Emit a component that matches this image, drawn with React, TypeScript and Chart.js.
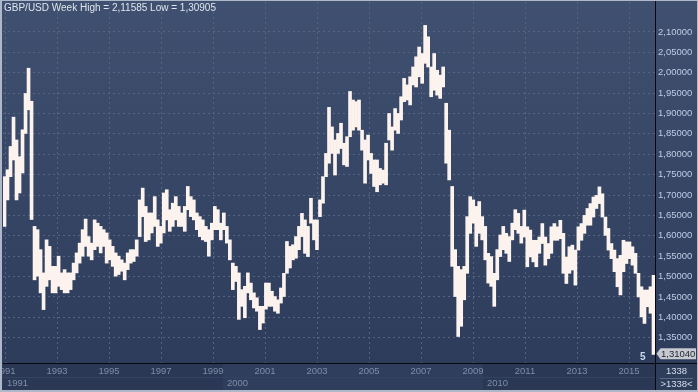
import React, { useEffect, useRef } from 'react';
import { Chart, registerables } from 'chart.js';

Chart.register(...registerables);

// Weekly high / low envelopes of GBP/USD (~1.5 weeks per bar)
const weekHighs = [
  1.745, 1.762, 1.819, 1.891, 1.835, 1.794, 1.860, 1.949, 2.011, 1.930,
  1.623, 1.615, 1.566, 1.509, 1.590, 1.574, 1.525, 1.525, 1.550, 1.509,
  1.517, 1.509, 1.509, 1.533, 1.558, 1.582, 1.615, 1.641, 1.598, 1.582,
  1.639, 1.631, 1.623, 1.615, 1.607, 1.590, 1.574, 1.558, 1.550, 1.541,
  1.533, 1.558, 1.566,
  1.566, 1.590, 1.688, 1.717, 1.672, 1.656, 1.656,
  1.696, 1.639, 1.623, 1.705, 1.713, 1.664, 1.680, 1.696, 1.672, 1.656,
  1.672, 1.721, 1.696, 1.688, 1.656, 1.647, 1.639, 1.623, 1.615, 1.631,
  1.672, 1.664, 1.631, 1.656, 1.623, 1.590, 1.533, 1.525, 1.509, 1.468,
  1.476, 1.509, 1.484, 1.460, 1.448, 1.427, 1.427,
  1.484, 1.484, 1.464,
  1.451, 1.443, 1.472, 1.508, 1.586, 1.574, 1.578, 1.598, 1.623, 1.655,
  1.639, 1.623, 1.692, 1.639, 1.639, 1.688, 1.745, 1.802, 1.915, 1.867,
  1.835, 1.851, 1.876, 1.827, 1.843, 1.954, 1.933, 1.929, 1.933, 1.859,
  1.835, 1.847, 1.802, 1.786, 1.786, 1.765, 1.761, 1.827, 1.900, 1.867,
  1.912, 1.900, 1.941, 1.986, 1.970, 1.990, 2.014, 2.039, 2.063, 2.047,
  2.116, 2.088, 2.014, 2.047, 2.006, 1.994, 2.014, 1.925, 1.859, 1.721,
  1.566, 1.525, 1.517, 1.525, 1.647, 1.696, 1.688, 1.672, 1.684, 1.647,
  1.623, 1.557, 1.549, 1.508, 1.566, 1.602, 1.623, 1.606, 1.598, 1.631,
  1.664, 1.655, 1.623,
  1.663, 1.622, 1.614, 1.589, 1.589, 1.597, 1.630,
  1.597, 1.581, 1.622, 1.630, 1.622, 1.638, 1.606, 1.548, 1.573, 1.577,
  1.565, 1.622, 1.630, 1.650, 1.667, 1.679, 1.695, 1.699, 1.720, 1.703,
  1.646, 1.618, 1.581, 1.565, 1.544, 1.552, 1.589, 1.585, 1.585, 1.573,
  1.557, 1.508, 1.475, 1.467, 1.467, 1.475, 1.503,
];

const weekLows = [
  1.623, 1.688, 1.745, 1.786, 1.688, 1.705, 1.754, 1.851, 1.909, 1.640,
  1.492, 1.501, 1.460, 1.419, 1.476, 1.492, 1.460, 1.460, 1.476, 1.468,
  1.460, 1.460, 1.468, 1.492, 1.509, 1.533, 1.550, 1.574, 1.550, 1.541,
  1.566, 1.574, 1.558, 1.574, 1.533, 1.541, 1.525, 1.501, 1.505, 1.513,
  1.492, 1.517, 1.533,
  1.537, 1.550, 1.598, 1.647, 1.586, 1.590, 1.607,
  1.623, 1.574, 1.582, 1.607, 1.639, 1.611, 1.623, 1.639, 1.623, 1.623,
  1.611, 1.664, 1.647, 1.639, 1.615, 1.598, 1.590, 1.586, 1.550, 1.590,
  1.615, 1.615, 1.590, 1.615, 1.582, 1.541, 1.468, 1.488, 1.395, 1.427,
  1.399, 1.460, 1.443, 1.423, 1.415, 1.370, 1.386,
  1.420, 1.427, 1.427,
  1.415, 1.410, 1.435, 1.451, 1.508, 1.521, 1.541, 1.545, 1.566, 1.598,
  1.557, 1.549, 1.631, 1.590, 1.566, 1.647, 1.680, 1.745, 1.778, 1.802,
  1.749, 1.802, 1.814, 1.774, 1.770, 1.843, 1.859, 1.867, 1.859, 1.810,
  1.729, 1.786, 1.753, 1.721, 1.708, 1.725, 1.729, 1.725, 1.835, 1.810,
  1.859, 1.851, 1.884, 1.929, 1.933, 1.921, 1.970, 1.965, 1.990, 1.974,
  2.023, 2.014, 1.941, 1.957, 1.945, 1.937, 1.965, 1.778, 1.737, 1.525,
  1.451, 1.353, 1.378, 1.443, 1.508, 1.606, 1.631, 1.574, 1.606, 1.590,
  1.541, 1.484, 1.476, 1.427, 1.492, 1.549, 1.566, 1.557, 1.537, 1.590,
  1.615, 1.606, 1.582,
  1.597, 1.524, 1.548, 1.536, 1.524, 1.557, 1.581,
  1.528, 1.544, 1.557, 1.589, 1.589, 1.593, 1.508, 1.483, 1.508, 1.516,
  1.479, 1.565, 1.589, 1.606, 1.626, 1.626, 1.646, 1.667, 1.679, 1.646,
  1.601, 1.565, 1.544, 1.512, 1.475, 1.455, 1.512, 1.532, 1.544, 1.528,
  1.508, 1.450, 1.401, 1.385, 1.426, 1.410, 1.309,
];

const yearTicks = [1991, 1993, 1995, 1997, 1999, 2001, 2003, 2005, 2007, 2009, 2011, 2013, 2015];
const priceTicks = [1.35, 1.40, 1.45, 1.50, 1.55, 1.60, 1.65, 1.70, 1.75, 1.80, 1.85, 1.90, 1.95, 2.00, 2.05, 2.10];
const eraLabels = ['1991', '2000', '2010'];
const eraStarts = [1990.923, 1999.38, 2009.38];
const titleText = 'GBP/USD Week High = 2,11585 Low = 1,30905';
const lastPrice = 1.3104;
const barCountText = '1338';
const markerText = '5';

const FONT = "'Liberation Sans', Arial, sans-serif";
const fmtPrice = (v: number) => v.toFixed(5).replace('.', ',');

const decorPlugin = {
  id: 'decor',
  beforeDraw(chart: any) {
    const { ctx, chartArea: ca, width, height } = chart;
    ctx.save();
    ctx.fillStyle = '#2b3a57';
    ctx.fillRect(0, 0, width, height);
    const g = ctx.createLinearGradient(0, 0, 0, ca.bottom);
    g.addColorStop(0, '#405070');
    g.addColorStop(1, '#2d3c5b');
    ctx.fillStyle = g;
    ctx.fillRect(0, 0, width, ca.bottom);
    // era bands in the time axis area
    const era = chart.scales.era;
    for (let i = 0; i < eraStarts.length; i++) {
      const x0 = Math.max(ca.left, era.getPixelForValue(eraStarts[i]));
      const x1 = i + 1 < eraStarts.length ? era.getPixelForValue(eraStarts[i + 1]) : ca.right;
      ctx.fillStyle = i % 2 === 1 ? '#2f3e5c' : '#2a3855';
      ctx.fillRect(x0, ca.bottom, x1 - x0, height - ca.bottom);
    }
    ctx.fillStyle = '#2e3d5a';
    ctx.fillRect(ca.right, ca.bottom, width - ca.right, height - ca.bottom);
    ctx.restore();
  },
  afterDraw(chart: any) {
    const { ctx, chartArea: ca, width, height } = chart;
    const era = chart.scales.era;
    const yS = chart.scales.y;
    ctx.save();
    // row separator
    const rowY = era.top;
    ctx.fillStyle = '#34435f';
    ctx.fillRect(ca.left, rowY, ca.right - ca.left, 1);
    // era labels
    ctx.font = `9.5px ${FONT}`;
    ctx.fillStyle = '#7f8da6';
    ctx.textBaseline = 'middle';
    ctx.textAlign = 'left';
    for (let i = 0; i < eraStarts.length; i++) {
      const x0 = Math.max(ca.left, era.getPixelForValue(eraStarts[i]));
      ctx.fillText(eraLabels[i], x0 + 4, rowY + 6.5);
    }
    // black frame lines
    ctx.fillStyle = '#05080d';
    ctx.fillRect(ca.left, ca.bottom, width - ca.left, 1);
    ctx.fillRect(ca.right, 0, 1, height);
    // title
    ctx.font = `10px ${FONT}`;
    ctx.fillStyle = '#dfe5ee';
    ctx.textAlign = 'left';
    ctx.fillText(titleText, 4, 8.5);
    // marker
    ctx.font = `bold 10px ${FONT}`;
    ctx.fillStyle = '#c9d8ee';
    ctx.fillText(markerText, ca.right - 15, ca.bottom - 6);
    // last price tag
    const py = yS.getPixelForValue(lastPrice);
    ctx.fillStyle = '#c6c9cf';
    ctx.beginPath();
    ctx.moveTo(ca.right + 1.5, py);
    ctx.lineTo(ca.right + 5.5, py - 5.5);
    ctx.lineTo(width - 2, py - 5.5);
    ctx.lineTo(width - 2, py + 5.5);
    ctx.lineTo(ca.right + 5.5, py + 5.5);
    ctx.closePath();
    ctx.fill();
    ctx.font = `9.5px ${FONT}`;
    ctx.fillStyle = '#1c2230';
    ctx.fillText(fmtPrice(lastPrice), ca.right + 6, py + 0.5);
    // right bottom panel
    const cx = (ca.right + width) / 2;
    ctx.textAlign = 'center';
    ctx.fillStyle = '#d5deeb';
    ctx.fillText(barCountText, cx, ca.bottom + 8);
    ctx.fillStyle = '#5b6884';
    ctx.fillRect(ca.right + 5, ca.bottom + 15, width - ca.right - 10, 1);
    ctx.fillStyle = '#d5deeb';
    ctx.fillText('>' + barCountText + '<', cx, ca.bottom + 21);
    // outer border
    ctx.fillStyle = '#aeb8c8';
    ctx.fillRect(0, 0, 2, height);
    ctx.fillRect(0, 0, width, 1);
    ctx.fillRect(0, height - 2, width, 2);
    ctx.fillRect(width - 1, 0, 1, height);
    ctx.restore();
  },
};

const zeroPad = (s: any) => {
  s.paddingTop = 0;
  s.paddingBottom = 0;
  s.paddingLeft = 0;
  s.paddingRight = 0;
};

export default function App() {
  const ref = useRef<HTMLCanvasElement | null>(null);
  useEffect(() => {
    document.body.style.margin = '0';
    const canvas = ref.current;
    if (!canvas) return;
    const labels = weekHighs.map((_, i) => String(i));
    const ranges = weekHighs.map((h, i) => [weekLows[i], h]);
    const chart = new Chart(canvas, {
      type: 'bar',
      data: {
        labels,
        datasets: [
          {
            data: ranges as any,
            backgroundColor: '#fdf3ee',
            borderWidth: 0,
            barPercentage: 1,
            categoryPercentage: 1,
          },
        ],
      },
      options: {
        animation: false,
        responsive: false,
        devicePixelRatio: 1,
        layout: { padding: { left: 3, right: 0, top: 2, bottom: 2 } },
        plugins: { legend: { display: false }, tooltip: { enabled: false }, title: { display: false } },
        scales: {
          x: { type: 'category', display: false, offset: true },
          years: {
            type: 'linear',
            position: 'bottom',
            weight: 0,
            offset: false,
            min: 1990.923,
            max: 2016.0,
            afterBuildTicks: (s: any) => {
              s.ticks = yearTicks.map((v) => ({ value: v }));
            },
            afterFit: (s: any) => {
              s.height = 14;
              zeroPad(s);
            },
            grid: { color: '#56647f', lineWidth: 1, drawTicks: false, offset: false },
            border: { display: false, dash: [2, 3] },
            ticks: {
              autoSkip: false,
              maxRotation: 0,
              padding: 3,
              color: '#7f8da6',
              font: { family: FONT, size: 9.5 },
              callback: (v: any) => String(v),
            },
          },
          era: {
            type: 'linear',
            position: 'bottom',
            weight: 1,
            offset: false,
            min: 1990.923,
            max: 2016.0,
            afterFit: (s: any) => {
              s.height = 13;
              zeroPad(s);
            },
            grid: { display: false, drawTicks: false, offset: false },
            border: { display: false },
            ticks: { display: false },
          },
          y: {
            type: 'linear',
            position: 'right',
            min: 1.288,
            max: 2.1734,
            afterBuildTicks: (s: any) => {
              s.ticks = priceTicks.map((v) => ({ value: v }));
            },
            afterFit: (s: any) => {
              s.width = 43;
              zeroPad(s);
            },
            grid: { color: '#56647f', lineWidth: 1, drawTicks: false },
            border: { display: false, dash: [2, 3] },
            ticks: {
              padding: 3,
              crossAlign: 'near',
              color: '#bccde6',
              font: { family: FONT, size: 9.5 },
              callback: (v: any) => fmtPrice(Number(v)),
            },
          },
        },
      } as any,
      plugins: [decorPlugin],
    });
    return () => chart.destroy();
  }, []);
  return (
    <div style={{ width: 698, height: 392, position: 'relative' }}>
      <canvas ref={ref} width={698} height={392} style={{ display: 'block', width: 698, height: 392 }} />
    </div>
  );
}
